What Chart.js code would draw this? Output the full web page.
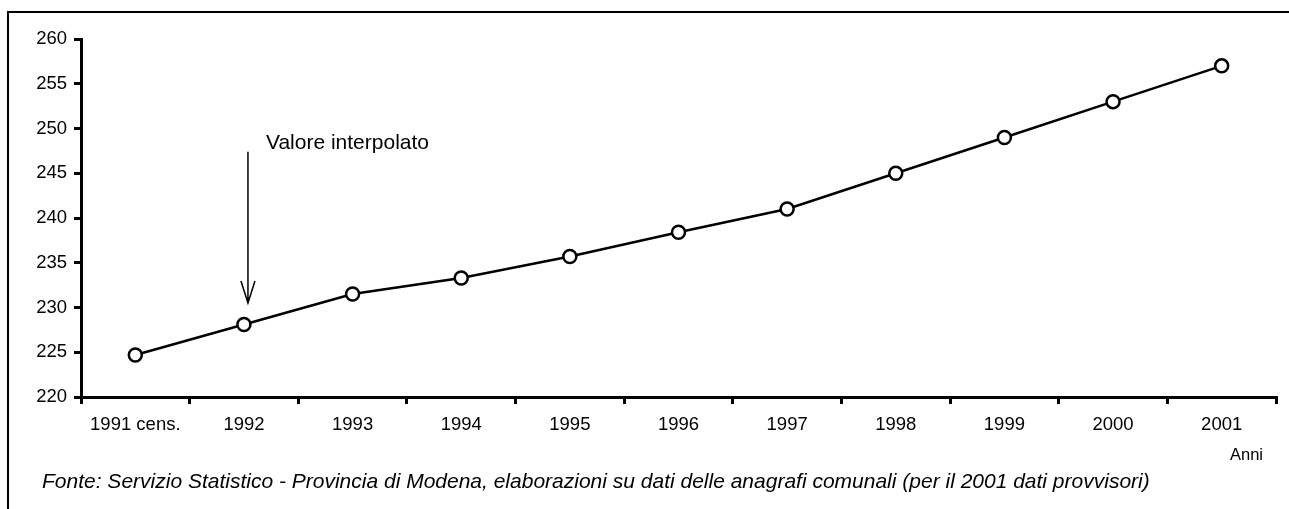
<!DOCTYPE html>
<html>
<head>
<meta charset="utf-8">
<script src="https://cdn.jsdelivr.net/npm/chart.js@4.4.0/dist/chart.umd.min.js"></script>
<style>
  body { margin: 0; background: #fff; }
  #frame { position: absolute; left: 7px; top: 11px; width: 1290px; height: 510px;
           border: 2px solid #000; border-bottom: none; }
  #chart { position: absolute; left: 0; top: 0; }
</style>
</head>
<body>
<div id="frame"></div>
<canvas id="chart" width="1289" height="509"></canvas>
<script>
// popolazione per anno (migliaia)
var anni = ["1991 cens.", "1992", "1993", "1994", "1995", "1996", "1997", "1998", "1999", "2000", "2001"];
var valori = [224.7, 228.1, 231.5, 233.3, 235.7, 238.4, 241.0, 245.0, 249.0, 253.0, 257.0];
var yMin = 220, yMax = 260, yStep = 5;

var nota = "Valore interpolato";
var notaIndice = 1; // il 1992 e' stimato
var titoloAsse = "Anni";
var fonte = "Fonte: Servizio Statistico - Provincia di Modena, elaborazioni su dati delle anagrafi comunali (per il 2001 dati provvisori)";

var font = "'Liberation Sans', Arial, sans-serif";

// freccia, nota, titolo asse e fonte
var extraText = {
  id: "extraText",
  afterDraw: function(chart) {
    var ctx = chart.ctx;
    var x = chart.scales.x;
    var y = chart.scales.y;
    var ax = x.getPixelForValue(notaIndice) + 4;
    var top = y.getPixelForValue(247.4);
    var tip = y.getPixelForValue(230.5);

    ctx.save();
    ctx.strokeStyle = "#000";
    ctx.lineWidth = 1.5;
    ctx.beginPath();
    ctx.moveTo(ax, top);
    ctx.lineTo(ax, tip);
    ctx.moveTo(ax - 7, tip - 22);
    ctx.lineTo(ax, tip);
    ctx.lineTo(ax + 7, tip - 22);
    ctx.stroke();

    ctx.fillStyle = "#000";
    ctx.textBaseline = "middle";
    ctx.font = "21px " + font;
    ctx.textAlign = "left";
    ctx.fillText(nota, ax + 18, top - 9);

    ctx.font = "16.5px " + font;
    ctx.textAlign = "right";
    ctx.fillText(titoloAsse, 1263, 455);

    ctx.font = "italic 21px " + font;
    ctx.textAlign = "left";
    ctx.fillText(fonte, 42, 482);
    ctx.restore();
  }
};

new Chart(document.getElementById("chart"), {
  type: "line",
  data: {
    labels: anni,
    datasets: [{
      data: valori,
      borderColor: "#000",
      borderWidth: 2.5,
      pointRadius: 6.5,
      pointHoverRadius: 6.5,
      pointBorderWidth: 2.5,
      pointBorderColor: "#000",
      pointBackgroundColor: "#fff",
      tension: 0
    }]
  },
  options: {
    responsive: false,
    animation: false,
    layout: { padding: { top: 39, right: 13, bottom: 0, left: 0 } },
    plugins: {
      legend: { display: false },
      tooltip: { enabled: false }
    },
    scales: {
      x: {
        offset: true,
        grid: { display: true, drawOnChartArea: false, drawTicks: true, tickLength: 7, color: "#000", lineWidth: 3, offset: true },
        border: { color: "#000", width: 3 },
        ticks: { color: "#000", font: { family: font, size: 18.5 }, padding: 10, maxRotation: 0, autoSkip: false },
        afterFit: function(scale) { scale.height = 112; }
      },
      y: {
        min: yMin,
        max: yMax,
        grid: { display: true, drawOnChartArea: false, drawTicks: true, tickLength: 7, color: "#000", lineWidth: 3 },
        border: { color: "#000", width: 3 },
        ticks: { stepSize: yStep, color: "#000", font: { family: font, size: 18.5 }, padding: 7 },
        afterFit: function(scale) { scale.width = 81; }
      }
    }
  },
  plugins: [extraText]
});
</script>
</body>
</html>
